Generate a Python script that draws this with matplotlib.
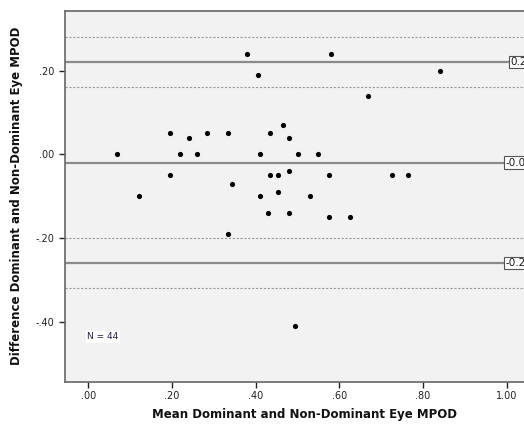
import matplotlib
matplotlib.use("Agg")
import matplotlib.pyplot as plt

# Data
mean_mpod = [0.069, 0.120, 0.195, 0.195, 0.220, 0.240, 0.259, 0.284, 0.335, 0.335,
             0.344, 0.379, 0.405, 0.410, 0.410, 0.430, 0.434, 0.434, 0.454, 0.454,
             0.465, 0.479, 0.479, 0.479, 0.500, 0.495, 0.530, 0.550, 0.575, 0.575,
             0.580, 0.625, 0.669, 0.725, 0.765, 0.841]
diff_mpod = [0.00, -0.10, 0.05, -0.05, 0.00, 0.04, 0.00, 0.05, 0.05, -0.19,
             -0.07, 0.24, 0.19, 0.00, -0.10, -0.14, 0.05, -0.05, -0.05, -0.09,
             0.07, 0.04, -0.04, -0.14, 0.00, -0.41, -0.10, 0.00, -0.05, -0.15,
             0.24, -0.15, 0.14, -0.05, -0.05, 0.20]

solid_lines = [0.221, -0.020, -0.260]
solid_labels = ["0.2", "-0.0", "-0.2"]
dashed_lines = [0.281, 0.160, -0.200, -0.320]

x_ticks = [0.0, 0.2, 0.4, 0.6, 0.8, 1.0]
x_tick_labels = [".00", ".20", ".40", ".60", ".80", "1.00"]
y_ticks = [0.2, 0.0, -0.2, -0.4]
y_tick_labels = [".20", ".00", "-.20", "-.40"]

W, H = 524, 425
fig = plt.figure(figsize=(W / 100, H / 100), dpi=100)
fig.patch.set_facecolor("white")

left, right, top, bottom = 65, 545, 10.7, 381.7
ax = fig.add_axes([left / W, 1 - bottom / H, (right - left) / W, (bottom - top) / H])
ax.set_facecolor("#f2f2f2")

x0_px, xscale = 88.3, 418.4
ax.set_xlim((left - x0_px) / xscale, (right - x0_px) / xscale)
ax.set_ylim(-0.544, 0.3435)

for y in dashed_lines:
    ax.axhline(y, color="#9a9a9a", lw=0.8, ls=(0, (2, 1.5)), zorder=1)
for y, lab in zip(solid_lines, solid_labels):
    ax.axhline(y, color="#8a8a8a", lw=1.6, zorder=1)
    tx = (510 - left) / (right - left) if lab == "0.2" else (505 - left) / (right - left)
    ax.text(tx, y, lab, fontsize=7.5, color="#1a1a1a", va="center", ha="left",
            transform=ax.get_yaxis_transform(), zorder=3,
            bbox=dict(boxstyle="square,pad=0.12", fc="white", ec="#555555", lw=0.8))

ax.scatter(mean_mpod, diff_mpod, s=14, color="black", zorder=4, linewidths=0)

ax.text(-0.003, -0.437, "N = 44", fontsize=6.5, color="#222244", va="center", ha="left",
        bbox=dict(boxstyle="square,pad=0.15", fc="white", ec="none"))

ax.set_xticks(x_ticks)
ax.set_xticklabels(x_tick_labels)
ax.set_yticks(y_ticks)
ax.set_yticklabels(y_tick_labels)
ax.tick_params(axis="both", direction="out", length=4, width=1, colors="#222222",
               labelsize=7, labelcolor="#222222")
ax.tick_params(axis="x", pad=3)

for s in ax.spines.values():
    s.set_color("#666666")
    s.set_linewidth(1.2)

ax.set_xlabel("Mean Dominant and Non-Dominant Eye MPOD", fontsize=8.5, fontweight="bold",
              color="#111111", labelpad=5)
ax.set_ylabel("Difference Dominant and Non-Dominant Eye MPOD", fontsize=8.5,
              fontweight="bold", color="#111111", labelpad=9)

fig.savefig("out.png", dpi=100)
